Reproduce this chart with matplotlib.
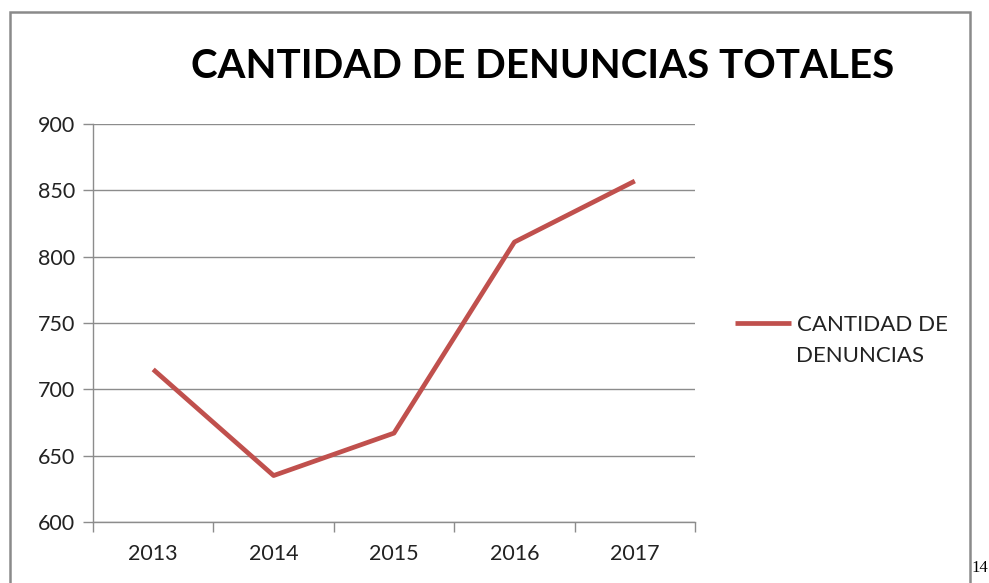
import matplotlib.pyplot as plt
from matplotlib.patches import Rectangle

# datos
anios = ['2013', '2014', '2015', '2016', '2017']
denuncias = [715, 635, 667, 811, 857]
yticks = [600, 650, 700, 750, 800, 850, 900]

W, H = 989, 583
fig = plt.figure(figsize=(W / 100, H / 100), dpi=100)
ax = fig.add_axes([93 / W, 1 - 522 / H, (695 - 93) / W, (522 - 124) / H])

rojo = '#C0504D'
gris = '#8c8c8c'

ax.plot(range(len(anios)), denuncias, color=rojo, lw=3.4, solid_capstyle='butt',
        label='CANTIDAD DE')

ax.set_xlim(-0.5, len(anios) - 0.5)
ax.set_ylim(600, 900)
ax.set_yticks(yticks)
ax.set_xticks(range(len(anios)))
ax.set_xticklabels(anios)
ax.set_xticks([i - 0.5 for i in range(len(anios) + 1)], minor=True)
ax.tick_params(axis='x', which='major', length=0, pad=16, labelsize=15.5, labelcolor='#222222')
ax.tick_params(axis='x', which='minor', length=7, color=gris, width=1, direction='out')
ax.tick_params(axis='y', length=7, color=gris, width=1, direction='out', pad=6,
               labelsize=15.5, labelcolor='#222222')
for lab in ax.get_xticklabels() + ax.get_yticklabels():
    lab.set_family('Lato')

ax.grid(axis='y', color=gris, lw=1)
ax.set_axisbelow(True)
for s in ['top', 'right']:
    ax.spines[s].set_visible(False)
for s in ['left', 'bottom']:
    ax.spines[s].set_color(gris)
    ax.spines[s].set_linewidth(1)

# leyenda: la linea va junto al primer renglon, el segundo renglon aparte
leg = ax.legend(loc='center left', bbox_to_anchor=(735 / W, 1 - 325 / H), bbox_transform=fig.transFigure,
                frameon=False, handlelength=2.5, handletextpad=0.3,
                prop={'family': 'Lato', 'size': 16}, borderaxespad=0, borderpad=0)
for t in leg.get_texts():
    t.set_color('#222222')
fig.text(796 / W, 1 - 356 / H, 'DENUNCIAS', ha='left', va='center', fontsize=16,
         family='Lato', color='#222222')

fig.text(543 / W, 1 - 67 / H, 'CANTIDAD DE DENUNCIAS TOTALES', ha='center', va='center',
         fontsize=29, fontweight='bold', family='Lato', color='black')

# marco del grafico
fig.patches.append(Rectangle((10 / W, -0.1), (970 - 10) / W, 1.1 - 12 / H, transform=fig.transFigure,
                             fill=False, ec='#8a8a8a', lw=1.8))

fig.text(988 / W, 1 - 568 / H, '14', ha='right', va='center', fontsize=12,
         family='Liberation Serif', color='black')

fig.savefig('out.png', dpi=100, facecolor='white')
